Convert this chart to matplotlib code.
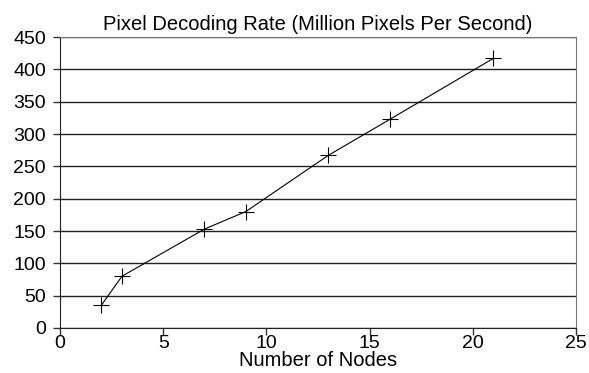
import matplotlib
matplotlib.use("Agg")
from matplotlib import pyplot as plt

nodes = [2, 3, 7, 9, 13, 16, 21]
rate = [35, 80, 153, 180, 267, 323, 417]
x_ticks = [0, 5, 10, 15, 20, 25]
y_ticks = [0, 50, 100, 150, 200, 250, 300, 350, 400, 450]

plt.rcParams['font.family'] = ['Liberation Sans', 'DejaVu Sans']

fig = plt.figure(figsize=(5.89, 3.73), dpi=100)
ax = fig.add_axes([60 / 589, 1 - 328 / 373, 516 / 589, 291 / 373])

ax.plot(nodes, rate, color='black', linewidth=0.8, marker='+',
        markersize=12, markeredgewidth=0.8, zorder=3)

ax.set_xlim(0, 25)
ax.set_ylim(0, 450)
ax.set_xticks(x_ticks)
ax.set_yticks(y_ticks)
ax.grid(axis='y', color='#222222', linewidth=1.0)
ax.set_axisbelow(True)
ax.tick_params(labelsize=14, length=5, width=1, color='#333333')
ax.tick_params(axis='y', pad=5)
ax.tick_params(axis='x', pad=0)
for side in ['left', 'bottom']:
    ax.spines[side].set_color('#222222')
for side in ['right', 'top']:
    ax.spines[side].set_color('#777777')

ax.set_title('Pixel Decoding Rate (Million Pixels Per Second)', fontsize=14.5, pad=5)
ax.set_xlabel('Number of Nodes', fontsize=14.5, labelpad=-1)

fig.savefig('out.png', dpi=100)
